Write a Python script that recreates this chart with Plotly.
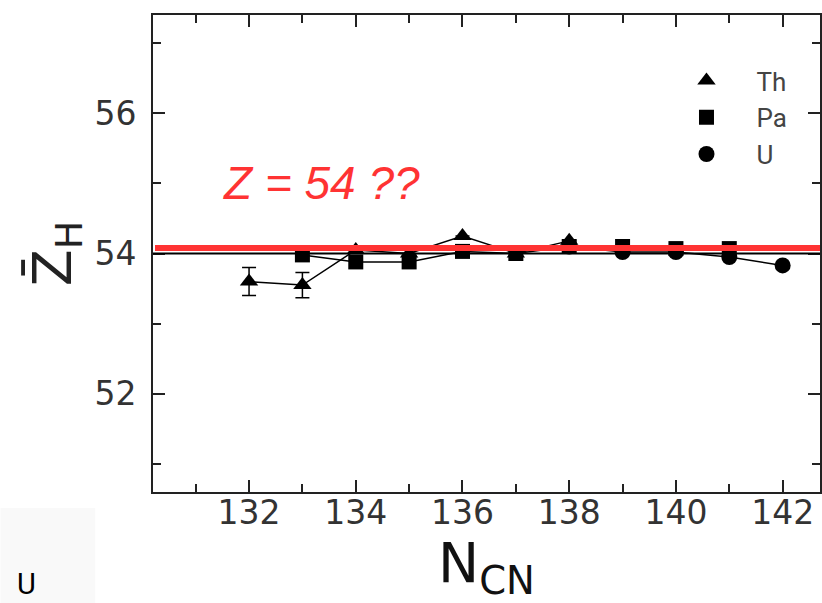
import plotly.graph_objects as go

# ---- data ----
th_n = [132, 133, 134, 135, 136, 137, 138]
th_z = [53.60, 53.55, 54.05, 54.00, 54.25, 54.00, 54.18]
th_err = [0.20, 0.18, 0.0, 0.0, 0.0, 0.0, 0.0]

pa_n = [133, 134, 135, 136, 137, 138, 139, 140, 141]
pa_z = [53.98, 53.88, 53.88, 54.03, 54.00, 54.10, 54.10, 54.07, 54.07]

u_n = [138, 139, 140, 141, 142]
u_z = [54.10, 54.02, 54.02, 53.95, 53.83]

ref_z = 54.0          # thin black reference line
red_z = 54.08         # red overlay line
x_ticks = [132, 134, 136, 138, 140, 142]
y_ticks = [52, 54, 56]

series = [
    ("Th", th_n, th_z, "triangle-up", 16, th_err),
    ("Pa", pa_n, pa_z, "square", 15, None),
    ("U", u_n, u_z, "circle", 16, None),
]

fig = go.Figure()
# connecting lines (no legend entry)
for name, xs, ys, sym, sz, err in series:
    fig.add_trace(go.Scatter(x=xs, y=ys, mode="lines", showlegend=False,
                             line=dict(color="black", width=1.5), hoverinfo="skip"))
# markers (legend shows symbol only)
for name, xs, ys, sym, sz, err in series:
    kw = {}
    if err is not None:
        kw["error_y"] = dict(type="data", array=err, color="black", thickness=1.5, width=7)
    fig.add_trace(go.Scatter(x=xs, y=ys, name=name, mode="markers",
                             marker=dict(symbol=sym, size=sz, color="black"), **kw))

fig.add_shape(type="line", xref="paper", yref="y", x0=0, x1=1, y0=ref_z, y1=ref_z,
              line=dict(color="black", width=2))
fig.add_shape(type="line", xref="paper", yref="y", x0=0.003, x1=1, y0=red_z, y1=red_z,
              line=dict(color="#ff3333", width=6))

fig.add_annotation(x=133.36, y=55.0, xref="x", yref="y", text="<i>Z = 54 ??</i>",
                   showarrow=False, font=dict(family="Liberation Sans", size=46, color="#ff3333"))

# faint scan patch with stray label at bottom-left
fig.add_shape(type="rect", xref="paper", yref="paper", x0=-153/669, x1=(95-153)/669,
              y0=-111/477, y1=(492-508)/477, fillcolor="#f9f9f9", line=dict(width=0),
              layer="below")
fig.add_annotation(x=(15-153)/669, y=(492-584)/477, xref="paper", yref="paper",
                   text="U", showarrow=False, xanchor="left", yanchor="middle",
                   font=dict(family="Roboto", size=29, color="black"))

axis_common = dict(showline=True, linecolor="#222", linewidth=2, mirror="allticks",
                   ticks="inside", ticklen=12, tickwidth=2, tickcolor="#222",
                   showgrid=False, zeroline=False,
                   tickfont=dict(family="DejaVu Sans", size=33, color="#333"))

fig.update_xaxes(range=[130.2, 142.7], tickvals=x_ticks, ticklabelstandoff=-10,
                 minor=dict(ticks="inside", ticklen=8, tickwidth=2, tickcolor="#222",
                            dtick=1, tick0=131, showgrid=False),
                 title=dict(text="N<sub>CN</sub>", standoff=6,
                            font=dict(family="DejaVu Sans", size=55, color="#111")),
                 **axis_common)
fig.update_yaxes(range=[50.6, 57.4], tickvals=y_ticks, ticklabelstandoff=8,
                 minor=dict(ticks="inside", ticklen=8, tickwidth=2, tickcolor="#222",
                            dtick=1, tick0=51, showgrid=False),
                 title=dict(text="Z\u0304<sub>H</sub>", standoff=6,
                            font=dict(family="DejaVu Sans", size=54, color="#222")),
                 **axis_common)

fig.update_layout(
    width=822, height=603,
    margin=dict(l=153, r=0, t=15, b=111),
    plot_bgcolor="white", paper_bgcolor="white",
    showlegend=True,
    legend=dict(x=(706 - 48 - 153) / 669, y=0.912, xanchor="left", yanchor="top",
                bgcolor="rgba(0,0,0,0)", itemwidth=90,
                font=dict(family="Roboto", size=26, color="#444"),
                tracegroupgap=0),
)

fig.write_html("out.html")
